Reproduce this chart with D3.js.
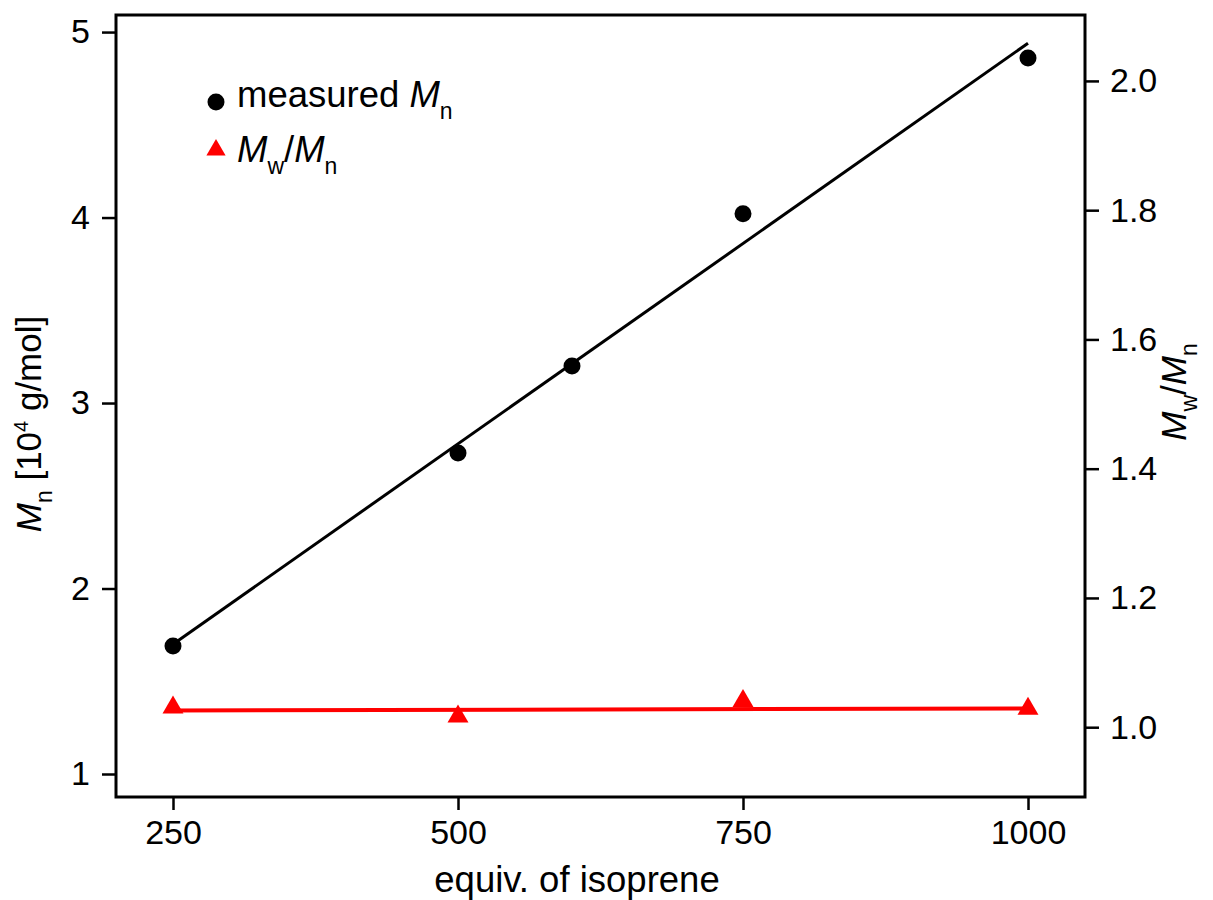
<!DOCTYPE html>
<html><head><meta charset="utf-8">
<script src="https://cdn.jsdelivr.net/npm/d3@7"></script>
<style>body{margin:0;background:#fff}svg{display:block;font-family:Arial,"Liberation Sans",sans-serif}</style>
</head><body><svg id="c" width="1213" height="900"></svg>
<script>
const mnX = [250, 500, 600, 750, 1000];
const mnY = [1.69, 2.73, 3.20, 4.02, 4.86];
const pdiX = [250, 500, 750, 1000];
const pdiY = [1.032, 1.018, 1.042, 1.030];
const mnFitX = [250, 1000];
const mnFitY = [1.70, 4.94];
const pdiFitX = [250, 1000];
const pdiFitY = [1.026, 1.029];
const xTicks = [250, 500, 750, 1000];
const yLeftTicks = [1, 2, 3, 4, 5];
const yRightTicks = [1.0, 1.2, 1.4, 1.6, 1.8, 2.0];

const svg = d3.select("#c");
const L = 116, R = 1085, T = 15, B = 797;
const x = d3.scaleLinear().domain([200, 1050]).range([L, R]);
const yL = d3.scaleLinear().domain([0.876, 5.092]).range([B, T]);
const yR = d3.scaleLinear().domain([0.892, 2.102]).range([B, T]);

// frame
svg.append("rect").attr("x", L).attr("y", T).attr("width", R - L).attr("height", B - T)
  .attr("fill", "none").attr("stroke", "#000").attr("stroke-width", 3);

const fs = 36.5, tfs = 34, sfs = 23, afs = 35;
const gx = svg.append("g").attr("transform", `translate(0,${B})`)
  .call(d3.axisBottom(x).tickValues(xTicks).tickSize(13).tickPadding(10).tickFormat(d3.format("d")));
const gl = svg.append("g").attr("transform", `translate(${L},0)`)
  .call(d3.axisLeft(yL).tickValues(yLeftTicks).tickSize(14).tickPadding(12).tickFormat(d3.format("d")));
const gr = svg.append("g").attr("transform", `translate(${R},0)`)
  .call(d3.axisRight(yR).tickValues(yRightTicks).tickSize(14).tickPadding(11).tickFormat(d3.format(".1f")));
[gx, gl, gr].forEach(g => {
  g.select(".domain").remove();
  g.selectAll(".tick line").attr("stroke", "#000").attr("stroke-width", 2.5);
  g.selectAll(".tick text").attr("fill", "#000").style("font-size", tfs + "px").style("font-family", "Arial, 'Liberation Sans', sans-serif");
});

// fit lines
const line = (xs, ys, ys2) => d3.line().x((d, i) => x(xs[i])).y((d, i) => ys2(ys[i]))(xs);
svg.append("path").attr("d", line(mnFitX, mnFitY, yL)).attr("stroke", "#000").attr("stroke-width", 3).attr("fill", "none");
svg.append("path").attr("d", line(pdiFitX, pdiFitY, yR)).attr("stroke", "#f00").attr("stroke-width", 4).attr("fill", "none");

// points
svg.selectAll("circle.mn").data(mnX).join("circle").attr("class", "mn")
  .attr("cx", d => x(d)).attr("cy", (d, i) => yL(mnY[i])).attr("r", 8.5).attr("fill", "#000");
const tri = d3.symbol().type(d3.symbolTriangle).size(190);
svg.selectAll("path.pdi").data(pdiX).join("path").attr("class", "pdi")
  .attr("transform", (d, i) => `translate(${x(d)},${yR(pdiY[i]) + 1})`).attr("d", tri).attr("fill", "#f00");

// legend
svg.append("circle").attr("cx", 216).attr("cy", 102).attr("r", 8.5).attr("fill", "#000");
svg.append("path").attr("transform", "translate(216,150)").attr("d", d3.symbol().type(d3.symbolTriangle).size(160)).attr("fill", "#f00");
const t1 = svg.append("text").attr("x", 237).attr("y", 107).style("font-size", fs + "px").attr("fill", "#000");
t1.append("tspan").text("measured ");
t1.append("tspan").attr("font-style", "italic").text("M");
t1.append("tspan").attr("dy", 12).style("font-size", sfs + "px").text("n");
const t2 = svg.append("text").attr("x", 237).attr("y", 162).style("font-size", fs + "px").attr("fill", "#000");
t2.append("tspan").attr("font-style", "italic").text("M");
t2.append("tspan").attr("dy", 12).style("font-size", sfs + "px").text("w");
t2.append("tspan").attr("dy", -12).text("/");
t2.append("tspan").attr("font-style", "italic").text("M");
t2.append("tspan").attr("dy", 12).style("font-size", sfs + "px").text("n");

// axis titles
svg.append("text").attr("x", 577).attr("y", 892).attr("text-anchor", "middle").style("font-size", fs + "px").attr("fill", "#000")
  .text("equiv. of isoprene");
const yl = svg.append("text").attr("transform", "translate(41,424) rotate(-90)").attr("text-anchor", "middle")
  .style("font-size", afs + "px").attr("fill", "#000");
yl.append("tspan").attr("font-style", "italic").text("M");
yl.append("tspan").attr("dy", 11).style("font-size", sfs + "px").text("n");
yl.append("tspan").attr("dy", -11).text(" [10");
yl.append("tspan").attr("dy", -13).style("font-size", "20px").text("4");
yl.append("tspan").attr("dy", 13).text(" g/mol]");
const yr = svg.append("text").attr("transform", "translate(1186,392) rotate(-90)").attr("text-anchor", "middle")
  .style("font-size", afs + "px").attr("fill", "#000");
yr.append("tspan").attr("font-style", "italic").text("M");
yr.append("tspan").attr("dy", 11).style("font-size", sfs + "px").text("w");
yr.append("tspan").attr("dy", -11).text("/");
yr.append("tspan").attr("font-style", "italic").text("M");
yr.append("tspan").attr("dy", 11).style("font-size", sfs + "px").text("n");
</script></body></html>
